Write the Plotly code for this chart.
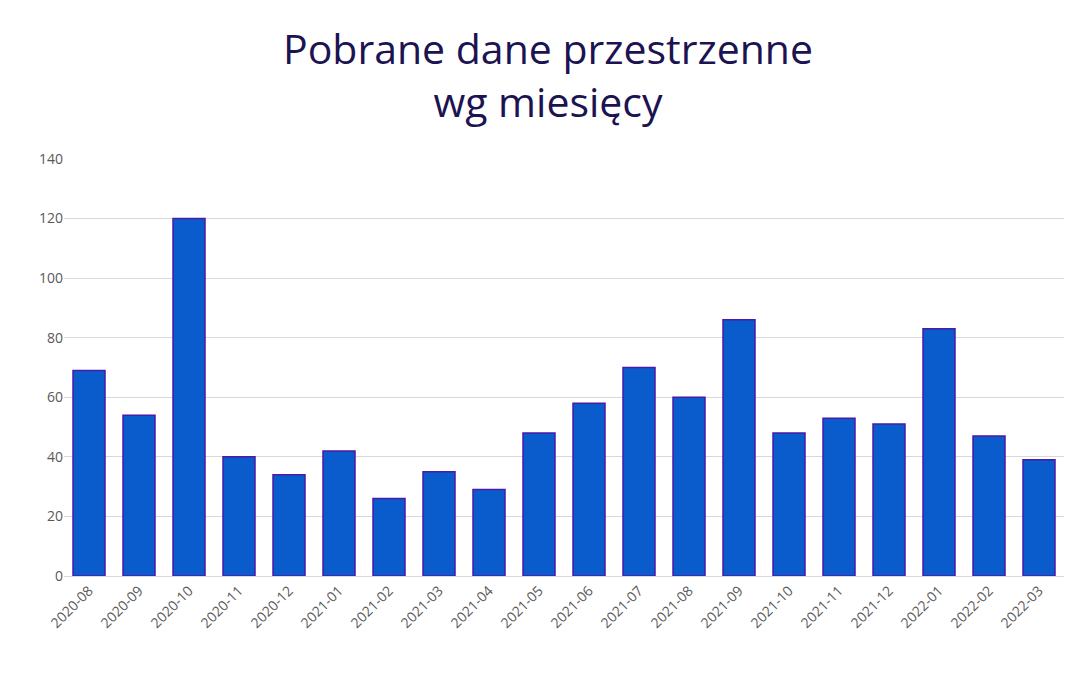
import plotly.graph_objects as go

months = ["2020-08","2020-09","2020-10","2020-11","2020-12","2021-01","2021-02","2021-03","2021-04","2021-05",
          "2021-06","2021-07","2021-08","2021-09","2021-10","2021-11","2021-12","2022-01","2022-02","2022-03"]
values = [69,54,120,40,34,42,26,35,29,48,58,70,60,86,48,53,51,83,47,39]
y_ticks = [0,20,40,60,80,100,120,140]

fig = go.Figure(go.Bar(x=months, y=values, marker=dict(color="#0a5ccc", line=dict(color="#4a1aa8", width=1.5))))
fig.update_layout(
    width=1081, height=678, paper_bgcolor="white", plot_bgcolor="white",
    margin=dict(l=56, r=25, t=151, b=110),
    bargap=0.36, showlegend=False,
    annotations=[dict(text="Pobrane dane przestrzenne<br>wg miesięcy", xref="paper", yref="paper",
                      x=0.484, y=1.0, yshift=141, xanchor="center", yanchor="top", showarrow=False,
                      font=dict(family="Open Sans", size=41, color="#1c1352"))],
    xaxis=dict(type="category", tickangle=-45, tickfont=dict(family="Open Sans", size=14, color="#595959"),
               showline=True, linecolor="#d9d9d9", ticks=""),
    yaxis=dict(range=[0,140], tickvals=y_ticks, gridcolor="#d9d9d9", zeroline=False,
               tickfont=dict(family="Open Sans", size=14, color="#595959")),
)
fig.write_html("out.html")
